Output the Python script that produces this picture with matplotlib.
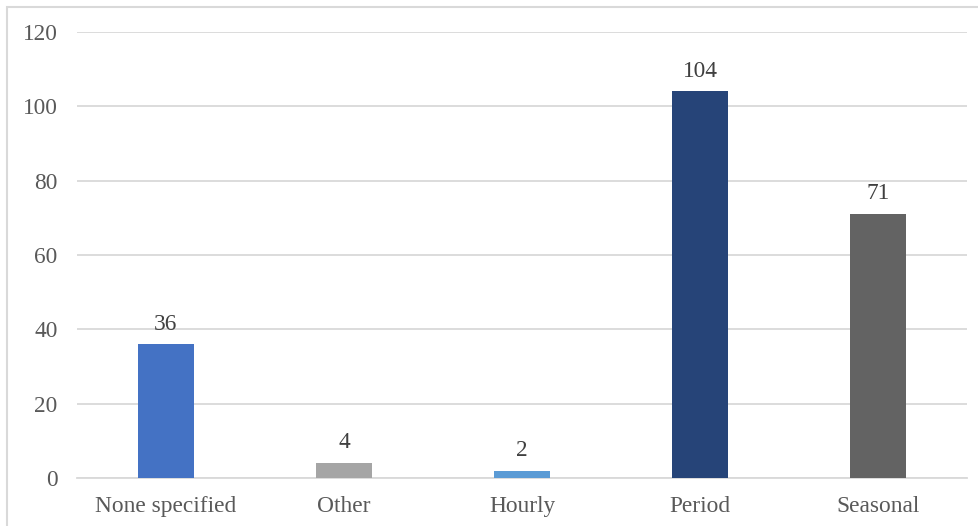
import matplotlib
matplotlib.use("Agg")
from matplotlib import pyplot as plt
from matplotlib.patches import Rectangle

categories = ["None specified", "Other", "Hourly", "Period", "Seasonal"]
counts = [36, 4, 2, 104, 71]
bar_colors = ["#4472C4", "#A5A5A5", "#5B9BD5", "#264478", "#636363"]
y_ticks = [0, 20, 40, 60, 80, 100, 120]

plt.rcParams["font.family"] = ["Liberation Serif", "DejaVu Serif"]
text_col = "#595959"

W, H = 979, 526
fig = plt.figure(figsize=(W / 100, H / 100), dpi=100)

# outer chart frame (only top and left show, the rest is cropped)
fig.patches.append(Rectangle((7 / W, -0.05), 1.1, 1 - 7 / H + 0.05,
                             transform=fig.transFigure, fill=False,
                             edgecolor="#D9D9D9", linewidth=1.5))

ax = fig.add_axes([77 / W, 1 - 478 / H, (967 - 77) / W, (478 - 32) / H])
x = range(len(categories))
bars = ax.bar(x, counts, width=0.315, color=bar_colors, zorder=3)

fs = 16.8
for b, v in zip(bars, counts):
    ax.text(b.get_x() + b.get_width() / 2, v + 2.6, str(v), ha="center",
            va="bottom", fontsize=fs, color="#404040")

ax.set_xlim(-0.5, len(categories) - 0.5)
ax.set_ylim(0, 120)
ax.set_yticks(y_ticks)
ax.set_xticks(list(x))
ax.set_xticklabels(categories)
ax.tick_params(axis="both", length=0, labelsize=fs, labelcolor=text_col)
ax.tick_params(axis="y", pad=14)
ax.tick_params(axis="x", pad=13)

ax.grid(axis="y", color="#D9D9D9", linewidth=1.3, zorder=0)
for s in ["top", "right", "left"]:
    ax.spines[s].set_visible(False)
ax.spines["bottom"].set_color("#D9D9D9")
ax.spines["bottom"].set_linewidth(1.3)

fig.savefig("out.png", dpi=100)
